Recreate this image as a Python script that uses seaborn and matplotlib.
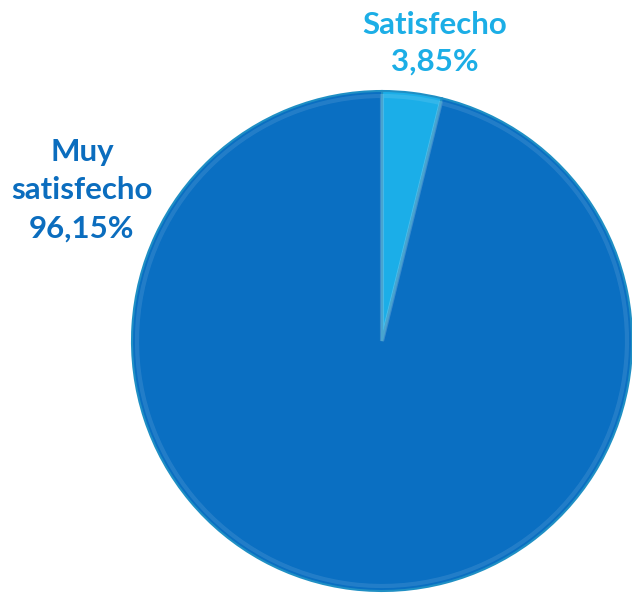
import numpy as np
import pandas as pd
import matplotlib.pyplot as plt
import seaborn as sns

# Satisfaction levels and their share (%)
categories = ["Satisfecho", "Muy satisfecho"]
shares = [3.85, 96.15]
label_texts = ["Satisfecho\n3,85%", "Muy\nsatisfecho\n96,15%"]
slice_colors = ["#1BAEE8", "#0A6FC2"]
text_colors = ["#1CAEE6", "#0B6DBE"]

sns.set_theme(style="white")
plt.rcParams["font.family"] = ["Lato", "DejaVu Sans"]

fig = plt.figure(figsize=(6.32, 5.93), dpi=100)
ax = fig.add_axes([0, 0, 1, 1])

wedges, _ = ax.pie(shares, colors=slice_colors, startangle=90, counterclock=False,
                   center=(382, 252), radius=250,
                   wedgeprops=dict(edgecolor="#1F8FC4", linewidth=1.5))

# inner highlight to mimic the bevel
ax.pie(shares, colors=["none", "none"], startangle=90, counterclock=False,
       center=(382, 252), radius=245,
       wedgeprops=dict(edgecolor=(1, 1, 1, 0.10), linewidth=3, fill=False))

# pie() resets the limits, so set the pixel frame afterwards
ax.set_xlim(0, 632)
ax.set_ylim(0, 593)
ax.set_aspect("equal")
ax.axis("off")

ax.text(435, 550, label_texts[0], ha="center", va="center", fontsize=22.5,
        fontweight="bold", color=text_colors[0], linespacing=1.38)
ax.text(82, 403, label_texts[1], ha="center", va="center", fontsize=22.5,
        fontweight="bold", color=text_colors[1], linespacing=1.45)

plt.savefig("out.png", dpi=100)
